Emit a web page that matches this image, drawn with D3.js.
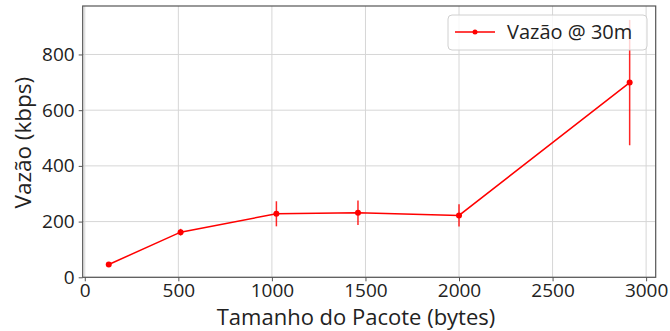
<!DOCTYPE html>
<html>
<head>
<meta charset="utf-8">
<script src="https://cdn.jsdelivr.net/npm/d3@7"></script>
<style>
  html, body { margin: 0; padding: 0; background: #fff; }
  svg { display: block; }
  text { font-family: "Open Sans", "DejaVu Sans", sans-serif; fill: #222; }
</style>
</head>
<body>
<svg id="chart" width="670" height="331"></svg>
<script>
// Packet size (bytes) vs. throughput (kbps) measured at 30 m
const packetSizes = [128, 512, 1024, 1460, 2000, 2912];
const throughput  = [46, 162, 228, 232, 222, 699];
const errors      = [5, 12, 45, 44, 40, 225];
const xTicks = [0, 500, 1000, 1500, 2000, 2500, 3000];
const yTicks = [0, 200, 400, 600, 800];
const seriesName = "Vazão @ 30m";
const xLabel = "Tamanho do Pacote (bytes)";
const yLabel = "Vazão (kbps)";

const svg = d3.select("#chart");
const plot = { left: 82.7, right: 655.7, top: 6, bottom: 277.3 };
const red = "#ff0000";

// x domain padded by 5% of the data span on each side
const xMin = d3.min(packetSizes), xMax = d3.max(packetSizes);
const pad = (xMax - xMin) * 0.05;
const x = d3.scaleLinear().domain([xMin - pad, xMax + pad]).range([plot.left, plot.right]);
const y = d3.scaleLinear().domain([0, 974]).range([plot.bottom, plot.top]);

const data = packetSizes.map((s, i) => ({ x: s, y: throughput[i], e: errors[i] }));

// grid
const grid = svg.append("g");
grid.selectAll(".gx").data(xTicks).join("line")
  .attr("x1", d => x(d)).attr("x2", d => x(d))
  .attr("y1", plot.top).attr("y2", plot.bottom)
  .attr("stroke", "#d6d6d6").attr("stroke-width", 1);
grid.selectAll(".gy").data(yTicks).join("line")
  .attr("x1", plot.left).attr("x2", plot.right)
  .attr("y1", d => y(d)).attr("y2", d => y(d))
  .attr("stroke", "#d6d6d6").attr("stroke-width", 1);

// axes
const xAxis = svg.append("g")
  .attr("transform", `translate(0,${plot.bottom})`)
  .call(d3.axisBottom(x).tickValues(xTicks).tickSize(4).tickPadding(2).tickFormat(d3.format("d")));
const yAxis = svg.append("g")
  .attr("transform", `translate(${plot.left},0)`)
  .call(d3.axisLeft(y).tickValues(yTicks).tickSize(4).tickPadding(4).tickFormat(d3.format("d")));
[xAxis, yAxis].forEach(a => {
  a.select(".domain").remove();
  a.selectAll(".tick line").attr("stroke", "#555");
  a.selectAll(".tick text").attr("font-size", 19).attr("fill", "#222")
    .style("font-family", "'Open Sans', 'DejaVu Sans', sans-serif");
});

// frame
svg.append("rect")
  .attr("x", plot.left).attr("y", plot.top)
  .attr("width", plot.right - plot.left).attr("height", plot.bottom - plot.top)
  .attr("fill", "none").attr("stroke", "#555").attr("stroke-width", 1.2);

// error bars
svg.append("g").selectAll("line").data(data).join("line")
  .attr("x1", d => x(d.x)).attr("x2", d => x(d.x))
  .attr("y1", d => y(d.y - d.e)).attr("y2", d => y(d.y + d.e))
  .attr("stroke", red).attr("stroke-opacity", 0.85).attr("stroke-width", 1.5);

// line and markers
svg.append("path").datum(data)
  .attr("d", d3.line().x(d => x(d.x)).y(d => y(d.y)))
  .attr("fill", "none").attr("stroke", red).attr("stroke-width", 1.5);
svg.append("g").selectAll("circle").data(data).join("circle")
  .attr("cx", d => x(d.x)).attr("cy", d => y(d.y)).attr("r", 3)
  .attr("fill", red);

// axis labels
svg.append("text")
  .attr("x", 356).attr("y", 325)
  .attr("text-anchor", "middle").attr("font-size", 22)
  .text(xLabel);
svg.append("text")
  .attr("transform", `translate(31,${(plot.top + plot.bottom) / 2 + 1}) rotate(-90)`)
  .attr("text-anchor", "middle").attr("font-size", 22.5)
  .text(yLabel);

// legend
const lg = svg.append("g");
lg.append("rect")
  .attr("x", 448).attr("y", 15).attr("width", 199).attr("height", 35).attr("rx", 4)
  .attr("fill", "#fff").attr("fill-opacity", 0.8)
  .attr("stroke", "#d0d0d0").attr("stroke-width", 1);
lg.append("line")
  .attr("x1", 455).attr("x2", 495).attr("y1", 32).attr("y2", 32)
  .attr("stroke", red).attr("stroke-width", 1.5);
lg.append("circle").attr("cx", 475).attr("cy", 32).attr("r", 2.5).attr("fill", red);
lg.append("text")
  .attr("x", 507).attr("y", 38.5).attr("font-size", 20)
  .text(seriesName);
</script>
</body>
</html>
